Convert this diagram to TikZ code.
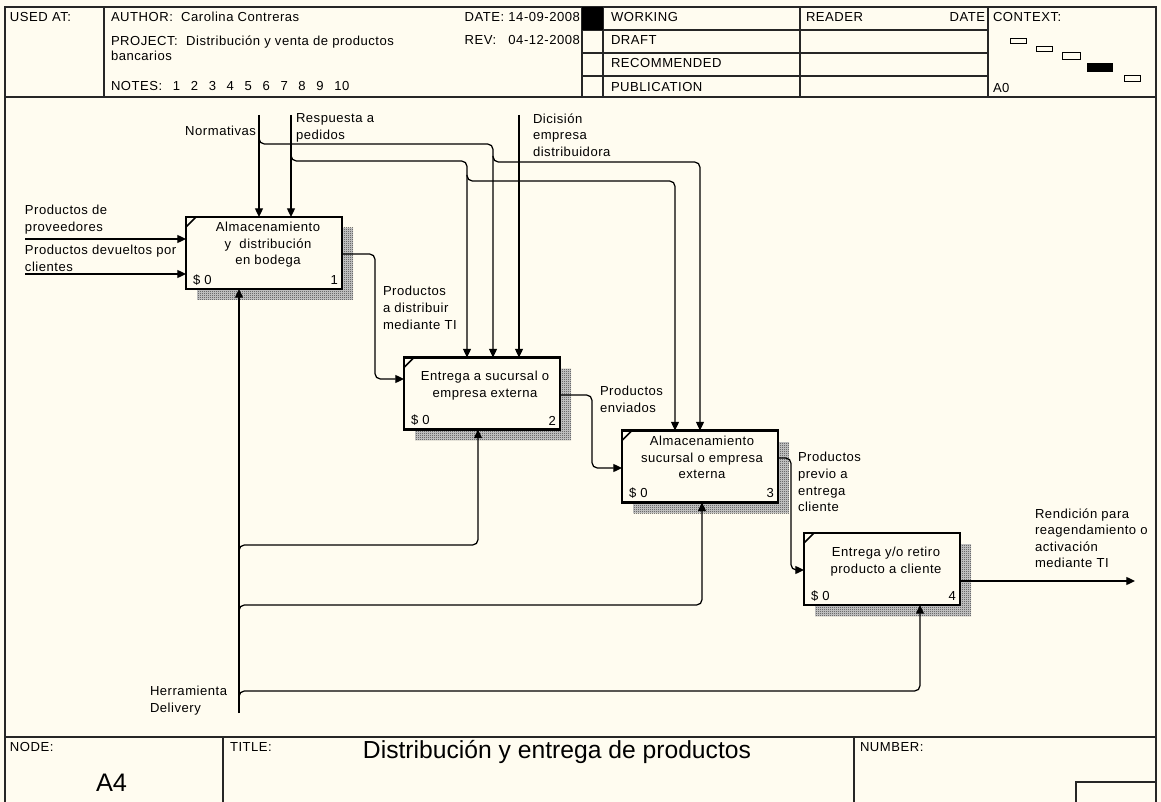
\documentclass[tikz,border=0pt]{standalone}
\usepackage{fontspec}
\setmainfont{Liberation Sans}[LetterSpace=4]
\newfontfamily\titlefont{Liberation Sans}
\usetikzlibrary{arrows.meta,patterns,calc}
\definecolor{paper}{RGB}{255,252,240}
% fine checker used for the drop shadows of the activity boxes
\pgfdeclarepatternformonly{shadowdots}{\pgfqpoint{0pt}{0pt}}{\pgfqpoint{1.5pt}{1.5pt}}{\pgfqpoint{1.5pt}{1.5pt}}{%
  \pgfpathrectangle{\pgfqpoint{0pt}{0pt}}{\pgfqpoint{0.75pt}{0.75pt}}%
  \pgfpathrectangle{\pgfqpoint{0.75pt}{0.75pt}}{\pgfqpoint{0.75pt}{0.75pt}}%
  \pgfusepath{fill}}
\newcommand\lblfont{\fontsize{9.8}{12.4}\selectfont}
\newcommand\notegap{\hspace{8pt}}
\begin{document}
\begin{tikzpicture}[x=0.75pt,y=-0.75pt,
  every node/.style={inner sep=0pt,outer sep=0pt},
  lbl/.style={font=\lblfont,align=left,anchor=north west},
  lblr/.style={font=\lblfont,align=right,anchor=north east},
  frameline/.style={line width=1pt,draw=black!85},
  gridline/.style={line width=0.8pt,draw=black!85},
  activity/.style={draw,line width=2pt,fill=paper,minimum width=117pt,minimum height=54pt},
  shadowbase/.style={fill=black!18},
  boxshadow/.style={pattern=shadowdots,pattern color=black!80},
  corner/.style={line width=1.2pt},
  boxtext/.style={font=\lblfont,align=center},
  flow/.style={line width=0.95pt,rounded corners=4pt,-{Triangle[length=6.5pt,width=6pt]}},
  ctx/.style={line width=0.7pt}]

\useasboundingbox (0,0) rectangle (1161,802);
\fill[paper] (0,0) rectangle (1161,802);

% ---------- sheet frame ----------
\draw[frameline] (5,802) -- (5,7) -- (1156,7) -- (1156,802);
\draw[frameline] (5,97) -- (1156,97);
\draw[frameline] (5,737) -- (1156,737);

% ---------- header block ----------
\draw[gridline] (104,7) -- (104,97);
\draw[gridline] (582,7) -- (582,97);
\draw[gridline] (603,7) -- (603,97);
\draw[gridline] (800,7) -- (800,97);
\draw[gridline] (988,7) -- (988,97);
\foreach \yy in {30,53,76} \draw[gridline] (582,\yy) -- (988,\yy);
\fill (582,7) rectangle (603,30);

\node[lbl] (usedat) at (10,12.5) {USED AT:};
\node[lbl] (author) at (111,12.5) {AUTHOR:\ \ Carolina Contreras};
\node[lbl] (project) at (111,35.5) {PROJECT:\ \ Distribución y venta de productos};
\node[lbl] (projectb) at (111,51.5) {bancarios};
\node[lbl] (notes) at (111,81.5) {NOTES:\notegap 1\notegap 2\notegap 3\notegap 4\notegap 5\notegap 6\notegap 7\notegap 8\notegap 9\notegap 10};
\node[lblr] (date) at (580,12.5) {DATE: 14-09-2008};
\node[lblr] (rev) at (580,35.5) {\rlap{REV:}\hphantom{DATE: }04-12-2008};
\node[lbl] (working) at (611,12.5) {WORKING};
\node[lbl] (draft) at (611,35.5) {DRAFT};
\node[lbl] (recommended) at (611,58.5) {RECOMMENDED};
\node[lbl] (publication) at (611,82) {PUBLICATION};
\node[lbl] (reader) at (806,12.5) {READER};
\node[lblr] (rdate) at (985,12.5) {DATE};
\node[lbl] (context) at (993,12.5) {CONTEXT:};
\node[lbl] (ctxnode) at (993,83.5) {A0};

% context miniature
\draw[ctx] (1010,38) rectangle (1026,43);
\draw[ctx] (1036,46) rectangle (1052,51);
\draw[ctx] (1062,52) rectangle (1080,59);
\filldraw[ctx] (1087,63) rectangle (1112,71);
\draw[ctx] (1124,75) rectangle (1140,81);

% ---------- footer block ----------
\draw[frameline] (223,737) -- (223,802);
\draw[frameline] (854,737) -- (854,802);
\draw[frameline] (1076,802) -- (1076,782) -- (1156,782);
\node[lbl] (nodelbl) at (10,742.5) {NODE:};
\node[lbl] (titlelbl) at (230,742.5) {TITLE:};
\node[lbl] (numberlbl) at (860,742.5) {NUMBER:};
\node[font=\titlefont\fontsize{19}{22}\selectfont,anchor=base] (nodeid) at (111.5,791) {A4};
\node[font=\titlefont\fontsize{18.5}{22}\selectfont] (title) at (557,752) {Distribución y entrega de productos};

% ---------- activity boxes ----------
\foreach \sx/\sy/\ex/\ey in {197/228/353/300, 415/369/571/440, 633/442/789/513, 815/544/971/616}{
  \fill[shadowbase] (\sx,\sy) rectangle (\ex,\ey);
  \fill[boxshadow] (\sx,\sy) rectangle (\ex,\ey);
}
\node[activity] (b1) at (264,253) {};
\node[activity] (b2) at (482,393.5) {};
\node[activity] (b3) at (700,466.5) {};
\node[activity] (b4) at (882,569) {};

\foreach \b in {b1,b2,b3,b4}
  \draw[corner] ($(\b.north west)+(0,10)$) -- ($(\b.north west)+(10,0)$);

\node[boxtext] (b1t) at (268,245) {Almacenamiento\\y\ \ distribución\\en bodega};
\node[boxtext] (b2t) at (485,385.5) {Entrega a sucursal o\\empresa externa};
\node[boxtext] (b3t) at (702,457.5) {Almacenamiento\\sucursal o empresa\\externa};
\node[boxtext] (b4t) at (886,561.5) {Entrega y/o retiro\\producto a cliente};

\foreach \b/\n in {b1/1,b2/2,b3/3,b4/4}{
  \node[font=\lblfont,anchor=west] (\b c) at ($(\b.south west)+(7,-9)$) {\$ 0};
  \node[font=\lblfont,anchor=east] (\b n) at ($(\b.south east)+(-4,-9)$) {\n};
}

% ---------- arrow labels ----------
\node[lblr] (normlbl) at (256,126.5) {Normativas};
\node[lbl] (resplbl) at (296,113.5) {Respuesta a\\pedidos};
\node[lbl] (diclbl) at (533,113.5) {Dicisión\\empresa\\distribuidora};
\node[lbl] (provlbl) at (25,205.5) {Productos de\\proveedores};
\node[lbl] (devlbl) at (25,245.5) {Productos devueltos por\\clientes};
\node[lbl] (distlbl) at (383,286.5) {Productos\\a distribuir\\mediante TI};
\node[lbl] (envlbl) at (600,386.5) {Productos\\enviados};
\node[lbl] (prevlbl) at (798,452.5) {Productos\\previo a\\entrega\\cliente};
\node[lbl] (rendlbl) at (1035,508.5) {Rendición para\\reagendamiento o\\activación\\mediante TI};
\node[lbl] (herrlbl) at (150,686.5) {Herramienta\\Delivery};

% ---------- arrow sources, ends and branch points ----------
\coordinate (normSrc) at (259,115);
\coordinate (respSrc) at (291,115);
\coordinate (dicSrc) at (519,115);
\coordinate (provSrc) at (25,239);
\coordinate (devSrc) at (25,274);
\coordinate (herrSrc) at (239,713);
\coordinate (rendEnd) at (1135,581);
\coordinate (nTap) at (259,138);
\coordinate (nTap2) at (493,156);
\coordinate (rTap) at (291,155);
\coordinate (rTap2) at (467,175);
\coordinate (hTap1) at (239,551);
\coordinate (hTap2) at (239,611);
\coordinate (hTap3) at (239,697);

% controls
\draw[flow] (normSrc) -- (normSrc |- b1.north);
\draw[flow] (respSrc) -- (respSrc |- b1.north);
\draw[flow] (dicSrc) -- (dicSrc |- b2.north);
\draw[flow] (nTap) |- (493,144) -- (493,144 |- b2.north);
\draw[flow] (nTap2) |- (700,162) -- (700,162 |- b3.north);
\draw[flow] (rTap) |- (467,161) -- (467,161 |- b2.north);
\draw[flow] (rTap2) |- (675,181) -- (675,181 |- b3.north);

% inputs
\draw[flow] (provSrc) -- (provSrc -| b1.west);
\draw[flow] (devSrc) -- (devSrc -| b1.west);

% outputs feeding the next activity
\draw[flow] (b1.east |- 0,254) -- (375,254) -- (375,379) -- (b2.west |- 0,379);
\draw[flow] (b2.east |- 0,395) -- (592,395) -- (592,468) -- (b3.west |- 0,468);
\draw[flow] (b3.east |- 0,458) -- (791,458) -- (791,570) -- (b4.west |- 0,570);
\draw[flow] (b4.east |- 0,581) -- (rendEnd);

% mechanism
\draw[flow] (herrSrc) -- (herrSrc |- b1.south);
\draw[flow] (hTap1) |- (478,545) -- (478,545 |- b2.south);
\draw[flow] (hTap2) |- (702,605) -- (702,605 |- b3.south);
\draw[flow] (hTap3) |- (920,691) -- (920,691 |- b4.south);

\end{tikzpicture}
\end{document}
